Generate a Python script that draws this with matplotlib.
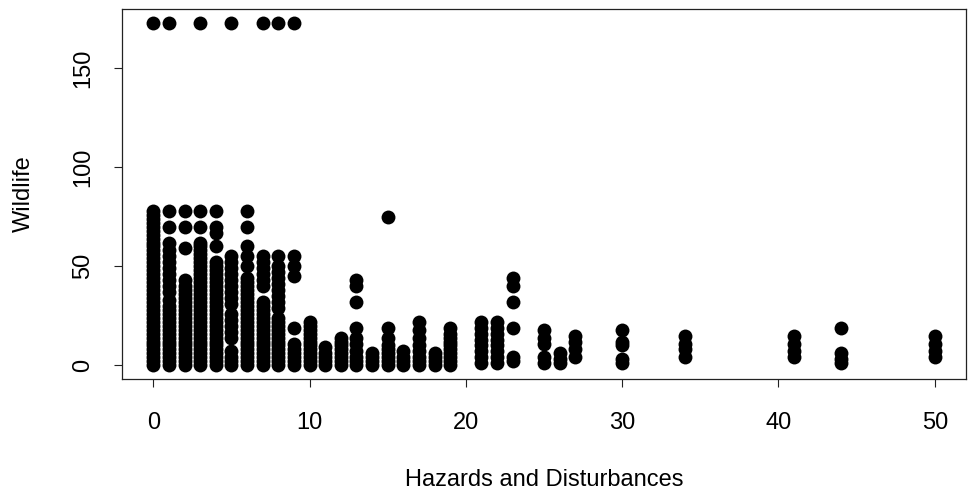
import matplotlib
matplotlib.use("Agg")
from matplotlib import pyplot as plt

# hazard level (x) and the wildlife values seen at each level (y)
hazardLevels = [0, 1, 2, 3, 4, 5, 6, 7, 8, 9, 10, 11, 12, 13, 14, 15, 16, 17, 18, 19,
                21, 22, 23, 25, 26, 27, 30, 34, 41, 44, 50]
wildlifeValues = [
    [0, 2, 4, 6, 8, 10, 12, 14, 16, 18, 20, 22, 24, 26, 28, 30, 32, 34, 36, 38, 40,
     42, 44, 46, 48, 50, 52, 54, 56, 58, 60, 62, 64, 66, 68, 70, 72, 74, 76, 78, 173],
    [0, 2, 4, 6, 8, 10, 12, 14, 16, 18, 20, 22, 24, 26, 28, 30, 33, 37, 40, 43, 46,
     49, 52, 55, 58, 62, 70, 78, 173],
    [0, 2, 4, 6, 8, 10, 12, 14, 16, 18, 20, 22, 24, 26, 28, 30, 32, 34, 36, 38, 40,
     43, 59, 70, 78],
    [0, 2, 4, 6, 8, 10, 12, 14, 16, 18, 20, 22, 24, 26, 28, 30, 32, 34, 36, 38, 40,
     42, 44, 46, 48, 50, 52, 54, 56, 58, 60, 62, 70, 78, 173],
    [0, 2, 4, 6, 8, 10, 12, 14, 16, 18, 20, 22, 24, 26, 28, 30, 32, 34, 36, 38, 40,
     42, 44, 46, 48, 50, 52, 60, 67, 70, 78],
    [0, 2, 4, 7, 14, 17, 20, 23, 26, 31, 34, 37, 40, 43, 46, 49, 52, 55, 173],
    [0, 2, 4, 6, 8, 10, 12, 14, 16, 18, 20, 22, 24, 26, 28, 30, 32, 34, 36, 38, 40,
     42, 44, 50, 55, 60, 70, 78],
    [0, 2, 4, 6, 8, 10, 12, 14, 16, 18, 20, 22, 24, 26, 28, 30, 32, 40, 43, 46, 49,
     52, 55, 173],
    [0, 2, 4, 6, 8, 10, 12, 14, 16, 18, 20, 22, 24, 29, 32, 35, 38, 41, 44, 47, 50,
     55, 173],
    [0, 2, 4, 6, 8, 11, 19, 45, 50, 55, 173],
    [0, 2, 4, 6, 8, 10, 12, 14, 16, 18, 20, 22],
    [0, 2, 4, 6, 9],
    [0, 2, 4, 6, 8, 10, 12, 14],
    [0, 2, 4, 7, 11, 14, 19, 32, 40, 43],
    [0, 2, 4, 6],
    [0, 2, 4, 6, 8, 10, 14, 19, 75],
    [0, 2, 4, 7],
    [0, 2, 4, 7, 10, 14, 18, 22],
    [0, 2, 4, 6],
    [0, 2, 4, 6, 8, 10, 12, 14, 16, 19],
    [1, 4, 7, 10, 13, 16, 19, 22],
    [1, 4, 7, 10, 13, 16, 19, 22],
    [2, 4, 19, 32, 40, 44],
    [1, 4, 11, 14, 18],
    [1, 3, 6],
    [4, 8, 12, 15],
    [1, 3, 10, 12, 18],
    [4, 8, 11, 15],
    [4, 7, 11, 15],
    [1, 3, 6, 19],
    [4, 7, 11, 15],
]
xTicks = [0, 10, 20, 30, 40, 50]
yTicks = [0, 50, 100, 150]

xs = []
ys = []
for level, values in zip(hazardLevels, wildlifeValues):
    for v in values:
        xs.append(level)
        ys.append(v)

plt.rcParams['font.family'] = ['Liberation Sans', 'DejaVu Sans']
fig = plt.figure(figsize=(9.73, 4.94), dpi=100)
ax = fig.add_axes([122 / 973, 1 - 379 / 494, 844 / 973, 370 / 494])

ax.scatter(xs, ys, s=100, color='black', linewidths=0)

# R style 4% padding on both axes
xr = max(xs) - min(xs)
yr = max(ys) - min(ys)
ax.set_xlim(min(xs) - 0.04 * xr, max(xs) + 0.04 * xr)
ax.set_ylim(min(ys) - 0.04 * yr, max(ys) + 0.04 * yr)

ax.set_xticks(xTicks)
ax.set_yticks(yTicks)
ax.tick_params(axis='both', direction='out', length=6, width=0.8, labelsize=17, color='#222222')
ax.tick_params(axis='x', pad=18)
ax.tick_params(axis='y', pad=14)
for lab in ax.get_yticklabels():
    lab.set_rotation(90)
    lab.set_va('center')
for sp in ax.spines.values():
    sp.set_linewidth(0.9)
    sp.set_color('#222222')

fig.text(544 / 973, 1 - 480 / 494, 'Hazards and Disturbances', ha='center', va='center', fontsize=17)
fig.text(24 / 973, 1 - 194 / 494, 'Wildlife', ha='center', va='center', rotation=90, fontsize=17)

fig.savefig('out.png', dpi=100)
